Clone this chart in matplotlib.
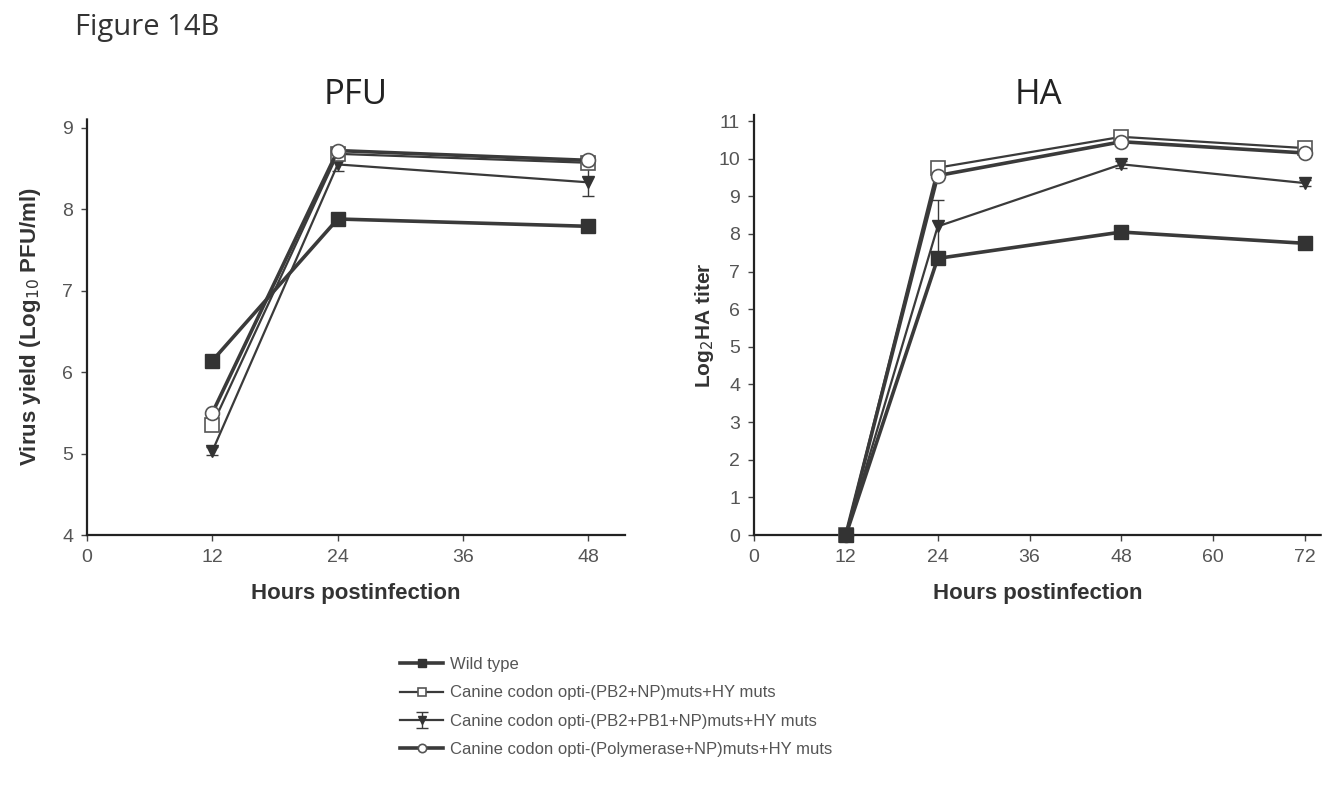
import matplotlib
matplotlib.use("Agg")
import matplotlib.pyplot as plt

# data
pfu_hours = [12, 24, 48]
pfu_wild = [6.14, 7.88, 7.79]
pfu_pb2_np = [5.35, 8.68, 8.57]
pfu_pb2_pb1_np = [5.03, 8.55, 8.33]
pfu_pb2_pb1_np_err = [0.05, 0.08, 0.17]
pfu_poly_np = [5.50, 8.72, 8.60]

ha_hours = [12, 24, 48, 72]
ha_wild = [0, 7.35, 8.05, 7.75]
ha_pb2_np = [0, 9.76, 10.58, 10.28]
ha_pb2_pb1_np = [0, 8.20, 9.85, 9.35]
ha_pb2_pb1_np_err = [0, 0.70, 0.10, 0.08]
ha_poly_np = [0, 9.55, 10.45, 10.15]

labels = [
    "Wild type",
    "Canine codon opti-(PB2+NP)muts+HY muts",
    "Canine codon opti-(PB2+PB1+NP)muts+HY muts",
    "Canine codon opti-(Polymerase+NP)muts+HY muts",
]

line_col = "#3a3a3a"
text_col = "#555555"
tick_font = "Liberation Sans"

fig = plt.figure(figsize=(13.32, 8.09), dpi=100)

ax1 = fig.add_axes([87 / 1332, 1 - 535 / 809, 538 / 1332, 417 / 809])
ax2 = fig.add_axes([754 / 1332, 1 - 535 / 809, 568 / 1332, 420 / 809])


def draw(ax, x, wild, pb2np, trip, trip_err, poly):
    h0, = ax.plot(x, wild, color=line_col, lw=2.6, marker="s", ms=10,
                  mfc="#333333", mec="#333333", label=labels[0], zorder=7,
                  clip_on=False)
    h1, = ax.plot(x, pb2np, color=line_col, lw=1.6, marker="s", ms=10,
                  mfc="white", mec="#555555", mew=1.2, label=labels[1], zorder=5,
                  clip_on=False)
    h2 = ax.errorbar(x, trip, yerr=trip_err, color=line_col, lw=1.6, marker="v",
                     ms=9, mfc="#333333", mec="#333333", capsize=4, elinewidth=1,
                     label=labels[2], zorder=3)
    h3, = ax.plot(x, poly, color=line_col, lw=2.6, marker="o", ms=10,
                  mfc="white", mec="#555555", mew=1.2, label=labels[3], zorder=6,
                  clip_on=False)
    for side in ["top", "right"]:
        ax.spines[side].set_visible(False)
    for side in ["left", "bottom"]:
        ax.spines[side].set_linestyle((0, (1, 1)))
        ax.spines[side].set_linewidth(1.6)
        ax.spines[side].set_color("#222222")
    ax.tick_params(direction="out", length=4, width=1, colors="#444444",
                   labelsize=14, labelcolor=text_col, pad=6)
    ax.set_xlabel("Hours postinfection", fontsize=16, fontweight="bold",
                  color="#333333", labelpad=12, family=tick_font)
    return [h0, h1, h2, h3]


handles = draw(ax1, pfu_hours, pfu_wild, pfu_pb2_np, pfu_pb2_pb1_np,
               pfu_pb2_pb1_np_err, pfu_poly_np)
ax1.set_xlim(0, 51.5)
ax1.set_ylim(4, 9.12)
ax1.set_xticks([0, 12, 24, 36, 48])
ax1.set_yticks([4, 5, 6, 7, 8, 9])
for lab in ax1.get_xticklabels() + ax1.get_yticklabels():
    lab.set_fontfamily(tick_font)
ax1.set_ylabel("Virus yield (Log$_{10}$ PFU/ml)", fontsize=16, fontweight="bold",
               color="#333333", labelpad=14, family=tick_font)
ax1.set_title("PFU", fontsize=25, color="#222222", pad=10, family="Open Sans")

draw(ax2, ha_hours, ha_wild, ha_pb2_np, ha_pb2_pb1_np, ha_pb2_pb1_np_err, ha_poly_np)
ax2.set_xlim(0, 74.2)
ax2.set_ylim(0, 11.16)
ax2.set_xticks([0, 12, 24, 36, 48, 60, 72])
ax2.set_yticks(range(0, 12))
for lab in ax2.get_xticklabels() + ax2.get_yticklabels():
    lab.set_fontfamily(tick_font)
ax2.set_ylabel("Log$_2$HA titer", fontsize=15, fontweight="bold",
               color="#333333", labelpad=2, family=tick_font)
ax2.set_title("HA", fontsize=25, color="#222222", pad=8, family="Open Sans")

fig.text(75 / 1332, 1 - 27 / 809, "Figure 14B", fontsize=21, color="#333333",
         family="Open Sans", va="center")

leg = fig.legend(handles, labels, loc="upper left",
                 bbox_to_anchor=(385 / 1332, 1 - 642 / 809), frameon=False,
                 prop={"family": tick_font, "size": 12}, handlelength=2.6,
                 labelspacing=0.8, handletextpad=0.4, markerscale=0.6)
for t in leg.get_texts():
    t.set_color(text_col)

fig.savefig("out.png", dpi=100)
